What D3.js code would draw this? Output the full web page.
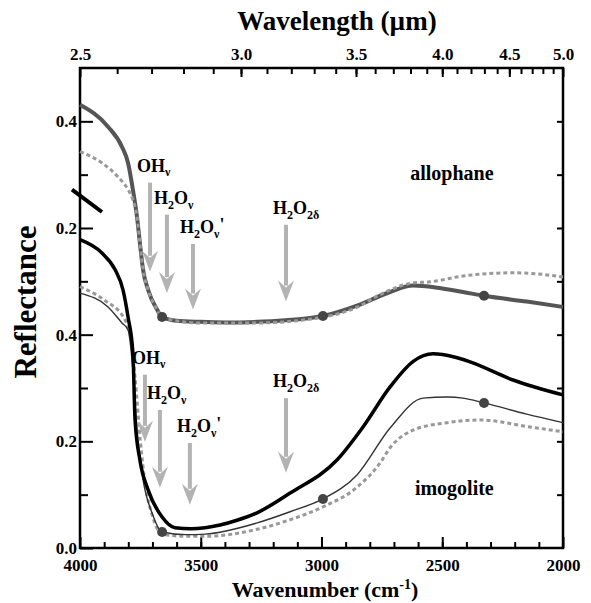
<!DOCTYPE html>
<html>
<head>
<meta charset="utf-8">
<title>allophane-imogolite</title>
<style>
body { margin: 0; background: #fff; font-family: "Liberation Serif", "Times New Roman", serif; }
text { font-weight: bold; }
.tick text { font-size: 17px; font-family: "Liberation Serif", serif; font-weight: bold; fill: #000; }
.tick line { stroke: #000; stroke-width: 2; }
.domain { display: none; }
</style>
</head>
<body>
<script src="https://cdn.jsdelivr.net/npm/d3@7"></script>
<script>
// wavenumber axis and wavelength ticks
var wnMajor = [4000, 3500, 3000, 2500, 2000];
var wnMinor = d3.range(3900, 2000, -100);
var wlMajor = [2.5, 3.0, 3.5, 4.0, 4.5, 5.0];
var wlMinor = d3.range(2.6, 5.0, 0.1).map(function (d) { return +d.toFixed(1); });

// reflectance tick labels (upper panel is shifted by panelOffset)
var panelOffset = 0.4;
var lowerTicks = [0.0, 0.2, 0.4];
var upperTicks = [0.2, 0.4];

// allophane (upper panel)
var alloThickWn = [4000, 3884, 3826, 3801, 3781, 3764, 3752, 3739, 3718, 3681, 3660, 3600, 3503, 3400, 3267, 3150, 2994, 2850, 2716, 2621, 2520, 2414, 2327, 2150, 2000];
var alloThick   = [0.431, 0.390, 0.352, 0.322, 0.272, 0.221, 0.172, 0.122, 0.084, 0.047, 0.033, 0.026, 0.024, 0.023, 0.024, 0.027, 0.035, 0.055, 0.080, 0.092, 0.088, 0.080, 0.073, 0.062, 0.052];
var alloDashWn = [4000, 3909, 3843, 3801, 3781, 3764, 3752, 3739, 3718, 3681, 3660, 3503, 3267, 2994, 2850, 2758, 2621, 2551, 2414, 2207, 2108, 2000];
var alloDash   = [0.343, 0.322, 0.296, 0.272, 0.253, 0.221, 0.172, 0.122, 0.084, 0.047, 0.032, 0.022, 0.022, 0.033, 0.052, 0.075, 0.097, 0.099, 0.110, 0.116, 0.114, 0.108];
var alloDotWn = [3660, 2994, 2327];
var alloDot   = [0.033, 0.035, 0.073];

// imogolite (lower panel)
var imoThickWn = [4000, 3909, 3855, 3822, 3801, 3781, 3772, 3752, 3718, 3660, 3607, 3540, 3482, 3420, 3350, 3267, 3130, 2936, 2828, 2716, 2620, 2538, 2450, 2385, 2207, 2000];
var imoThick   = [0.578, 0.553, 0.522, 0.484, 0.433, 0.366, 0.240, 0.165, 0.109, 0.058, 0.038, 0.036, 0.038, 0.043, 0.052, 0.066, 0.103, 0.165, 0.227, 0.302, 0.350, 0.364, 0.358, 0.349, 0.315, 0.287];
var imoThinWn = [4000, 3884, 3826, 3801, 3781, 3764, 3739, 3702, 3660, 3560, 3482, 3267, 3130, 2994, 2853, 2716, 2580, 2480, 2414, 2327, 2150, 2000];
var imoThin   = [0.478, 0.452, 0.422, 0.409, 0.334, 0.221, 0.128, 0.066, 0.030, 0.025, 0.026, 0.047, 0.068, 0.092, 0.137, 0.225, 0.281, 0.283, 0.281, 0.272, 0.251, 0.235];
var imoDashWn = [4000, 3900, 3814, 3790, 3772, 3750, 3730, 3700, 3660, 3560, 3482, 3267, 3130, 2994, 2853, 2758, 2716, 2621, 2480, 2344, 2137, 2000];
var imoDash   = [0.490, 0.465, 0.428, 0.395, 0.320, 0.200, 0.120, 0.060, 0.026, 0.022, 0.022, 0.035, 0.053, 0.077, 0.114, 0.159, 0.188, 0.221, 0.235, 0.240, 0.227, 0.218];
var imoDotWn = [3660, 2994, 2327];
var imoDot   = [0.030, 0.092, 0.272];

// band arrows: label, wavenumber, top and tip reflectance
var bandLabels = [["OH", "\u03bd", ""], ["H", "2", "O", "\u03bd", ""], ["H", "2", "O", "\u03bd", "'"], ["H", "2", "O", "2\u03b4", ""]];
var alloArrowWn  = [3710, 3640, 3532, 3147];
var alloArrowTop = [0.285, 0.225, 0.170, 0.206];
var alloArrowTip = [0.118, 0.078, 0.047, 0.062];
var imoArrowWn  = [3731, 3669, 3545, 3147];
var imoArrowTop = [0.325, 0.259, 0.197, 0.281];
var imoArrowTip = [0.199, 0.113, 0.081, 0.141];

var margin = { top: 68, right: 28, bottom: 55, left: 80 };
var width = 591 - margin.left - margin.right,
    height = 603 - margin.top - margin.bottom;

var svg = d3.select("body").append("svg")
    .attr("width", 591)
    .attr("height", 603)
    .append("g")
    .attr("transform", "translate(" + margin.left + "," + margin.top + ")");

var x = d3.scaleLinear().domain([4000, 2000]).range([0, width]);
var y = d3.scaleLinear().domain([0, 0.9]).range([height, 0]);

// bottom axis, ticks pointing in
svg.append("g").attr("transform", "translate(0," + height + ")")
    .call(d3.axisBottom(x).tickValues(wnMinor).tickSize(-6).tickFormat(""));
svg.append("g").attr("transform", "translate(0," + height + ")")
    .call(d3.axisBottom(x).tickValues(wnMajor).tickSize(-11).tickPadding(11).tickFormat(d3.format("d")));

// top axis in wavelength (um) = 1e4 / wavenumber
svg.append("g")
    .call(d3.axisTop(x).tickValues(wlMinor.map(function (w) { return 1e4 / w; })).tickSize(-6).tickFormat(""));
svg.append("g")
    .call(d3.axisTop(x).tickValues(wlMajor.map(function (w) { return 1e4 / w; })).tickSize(-9).tickPadding(8)
        .tickFormat(function (d) { return d3.format(".1f")(1e4 / d); }));

// left axis: two stacked panels
svg.append("g")
    .call(d3.axisLeft(y).tickValues([0.1, 0.3, 0.5, 0.7]).tickSize(-8).tickFormat(""));
svg.append("g")
    .call(d3.axisLeft(y).tickValues(lowerTicks.concat(upperTicks.map(function (t) { return t + panelOffset; })))
        .tickSize(-13).tickPadding(3)
        .tickFormat(function (d) { return d3.format(".1f")(d > 0.45 ? d - panelOffset : d); }));

// right axis ticks
svg.append("g").attr("transform", "translate(" + width + ",0)")
    .call(d3.axisRight(y).tickValues(d3.range(0.1, 0.85, 0.1)).tickSize(-6).tickFormat(""));

// frame
svg.append("rect")
    .attr("width", width).attr("height", height)
    .attr("fill", "none").attr("stroke", "#000").attr("stroke-width", 2.5);

// axis break mark on the left
svg.append("line")
    .attr("x1", -8).attr("y1", y(0.672))
    .attr("x2", 22).attr("y2", y(0.63))
    .attr("stroke", "#000").attr("stroke-width", 4);

function series(wn, vals, off) {
    return wn.map(function (w, i) { return [w, vals[i] + off]; });
}
var line = d3.line()
    .x(function (d) { return x(d[0]); })
    .y(function (d) { return y(d[1]); })
    .curve(d3.curveMonotoneX);

function drawLine(data, color, w, dash) {
    svg.append("path").datum(data)
        .attr("d", line)
        .attr("fill", "none")
        .attr("stroke", color)
        .attr("stroke-width", w)
        .attr("stroke-linejoin", "round")
        .attr("stroke-dasharray", dash || null);
}

// upper panel lines
drawLine(series(alloThickWn, alloThick, panelOffset), "#555", 4);
drawLine(series(alloDashWn, alloDash, panelOffset), "#999", 3, "4,3");

// lower panel lines
drawLine(series(imoDashWn, imoDash, 0), "#999", 3, "4,3");
drawLine(series(imoThinWn, imoThin, 0), "#333", 1.4);
drawLine(series(imoThickWn, imoThick, 0), "#000", 3.5);

// dots
svg.selectAll(".dotA").data(series(alloDotWn, alloDot, panelOffset)).enter()
    .append("circle").attr("class", "dotA")
    .attr("cx", function (d) { return x(d[0]); })
    .attr("cy", function (d) { return y(d[1]); })
    .attr("r", 5).attr("fill", "#444");
svg.selectAll(".dotI").data(series(imoDotWn, imoDot, 0)).enter()
    .append("circle").attr("class", "dotI")
    .attr("cx", function (d) { return x(d[0]); })
    .attr("cy", function (d) { return y(d[1]); })
    .attr("r", 5).attr("fill", "#444");

// band arrows with labels
function drawArrows(wn, top, tip, off) {
    wn.forEach(function (w, i) {
        var ax = x(w), y0 = y(top[i] + off), y1 = y(tip[i] + off);
        svg.append("line")
            .attr("x1", ax).attr("y1", y0)
            .attr("x2", ax).attr("y2", y1 - 16)
            .attr("stroke", "#b3b3b3").attr("stroke-width", 4);
        svg.append("path")
            .attr("d", "M" + (ax - 8) + "," + (y1 - 21) + "L" + ax + "," + y1 + "L" + (ax + 8) + "," + (y1 - 21) + "L" + ax + "," + (y1 - 14) + "Z")
            .attr("fill", "#b3b3b3");
        var parts = bandLabels[i];
        var t = svg.append("text")
            .attr("x", ax - 13).attr("y", y0 - 11)
            .style("font-size", "18px");
        if (parts.length === 3) {
            t.append("tspan").text(parts[0]);
            t.append("tspan").attr("dy", 4).style("font-size", "12px").text(parts[1]);
        } else {
            t.append("tspan").text(parts[0]);
            t.append("tspan").attr("dy", 5).style("font-size", "12px").text(parts[1]);
            t.append("tspan").attr("dy", -5).text(parts[2]);
            t.append("tspan").attr("dy", 5).style("font-size", "12px").text(parts[3]);
            if (parts[4]) t.append("tspan").attr("dy", -7).text(parts[4]);
        }
    });
}
drawArrows(alloArrowWn, alloArrowTop, alloArrowTip, panelOffset);
drawArrows(imoArrowWn, imoArrowTop, imoArrowTip, 0);

// sample names
svg.append("text")
    .attr("x", x(2460)).attr("y", y(0.69))
    .attr("text-anchor", "middle")
    .style("font-size", "20px")
    .text("allophane");
svg.append("text")
    .attr("x", x(2450)).attr("y", y(0.1))
    .attr("text-anchor", "middle")
    .style("font-size", "20px")
    .text("imogolite");

// axis titles
svg.append("text")
    .attr("x", 257).attr("y", -38)
    .attr("text-anchor", "middle")
    .style("font-size", "27px")
    .text("Wavelength (\u00b5m)");

var xt = svg.append("text")
    .attr("x", 245).attr("y", height + 49)
    .attr("text-anchor", "middle")
    .style("font-size", "22px");
xt.append("tspan").text("Wavenumber (cm");
xt.append("tspan").attr("dy", -8).style("font-size", "14px").text("-1");
xt.append("tspan").attr("dy", 8).text(")");

svg.append("text")
    .attr("transform", "rotate(-90)")
    .attr("x", -(y(0.45)) + 6)
    .attr("y", -44)
    .attr("text-anchor", "middle")
    .style("font-size", "31px")
    .text("Reflectance");
</script>
</body>
</html>
